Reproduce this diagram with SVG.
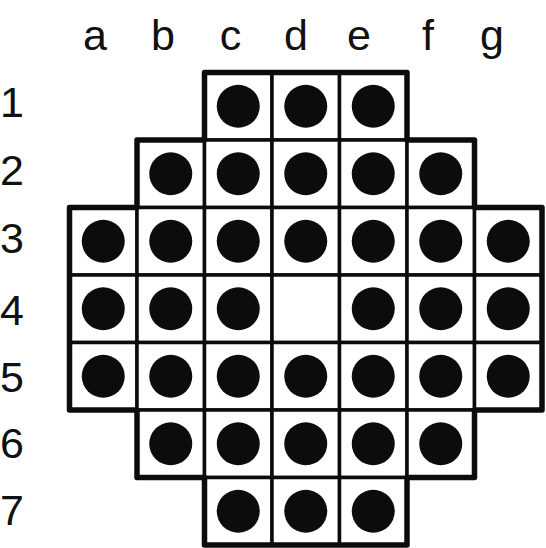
<svg xmlns="http://www.w3.org/2000/svg" width="546" height="548" viewBox="0 0 546 548">
<style>
.cell{fill:#fff;stroke:#0c0c0a;stroke-width:3.5}
.peg{fill:#0c0c0a}
.lbl{font-family:"Liberation Sans",Arial,sans-serif;font-size:43px;fill:#111}
.outline{fill:none;stroke:#0c0c0a;stroke-width:5.5;stroke-linejoin:round}
</style>
<rect width="546" height="548" fill="#fff"/>
<g id="col-labels" class="lbl" text-anchor="middle">
<text x="95" y="50">a</text>
<text x="163" y="50">b</text>
<text x="230.5" y="50">c</text>
<text x="296" y="50">d</text>
<text x="359" y="50">e</text>
<text x="428" y="50">f</text>
<text x="492" y="50">g</text>
</g>
<g id="row-labels" class="lbl">
<text x="0" y="117">1</text>
<text x="0" y="185">2</text>
<text x="0" y="253">3</text>
<text x="0" y="325">4</text>
<text x="0" y="392">5</text>
<text x="0" y="458">6</text>
<text x="0" y="525">7</text>
</g>
<g id="board">
<g id="c1"><rect class="cell" x="204.5" y="72.5" width="67.5" height="67.5"/><circle class="peg" cx="238.25" cy="106.25" r="21.5"/></g>
<g id="d1"><rect class="cell" x="272" y="72.5" width="67.5" height="67.5"/><circle class="peg" cx="305.75" cy="106.25" r="21.5"/></g>
<g id="e1"><rect class="cell" x="339.5" y="72.5" width="67.5" height="67.5"/><circle class="peg" cx="373.25" cy="106.25" r="21.5"/></g>

<g id="b2"><rect class="cell" x="137" y="140" width="67.5" height="67.5"/><circle class="peg" cx="170.75" cy="173.75" r="21.5"/></g>
<g id="c2"><rect class="cell" x="204.5" y="140" width="67.5" height="67.5"/><circle class="peg" cx="238.25" cy="173.75" r="21.5"/></g>
<g id="d2"><rect class="cell" x="272" y="140" width="67.5" height="67.5"/><circle class="peg" cx="305.75" cy="173.75" r="21.5"/></g>
<g id="e2"><rect class="cell" x="339.5" y="140" width="67.5" height="67.5"/><circle class="peg" cx="373.25" cy="173.75" r="21.5"/></g>
<g id="f2"><rect class="cell" x="407" y="140" width="67.5" height="67.5"/><circle class="peg" cx="440.75" cy="173.75" r="21.5"/></g>

<g id="a3"><rect class="cell" x="69.5" y="207.5" width="67.5" height="67.5"/><circle class="peg" cx="103.25" cy="241.25" r="21.5"/></g>
<g id="b3"><rect class="cell" x="137" y="207.5" width="67.5" height="67.5"/><circle class="peg" cx="170.75" cy="241.25" r="21.5"/></g>
<g id="c3"><rect class="cell" x="204.5" y="207.5" width="67.5" height="67.5"/><circle class="peg" cx="238.25" cy="241.25" r="21.5"/></g>
<g id="d3"><rect class="cell" x="272" y="207.5" width="67.5" height="67.5"/><circle class="peg" cx="305.75" cy="241.25" r="21.5"/></g>
<g id="e3"><rect class="cell" x="339.5" y="207.5" width="67.5" height="67.5"/><circle class="peg" cx="373.25" cy="241.25" r="21.5"/></g>
<g id="f3"><rect class="cell" x="407" y="207.5" width="67.5" height="67.5"/><circle class="peg" cx="440.75" cy="241.25" r="21.5"/></g>
<g id="g3"><rect class="cell" x="474.5" y="207.5" width="67.5" height="67.5"/><circle class="peg" cx="508.25" cy="241.25" r="21.5"/></g>

<g id="a4"><rect class="cell" x="69.5" y="275" width="67.5" height="67.5"/><circle class="peg" cx="103.25" cy="308.75" r="21.5"/></g>
<g id="b4"><rect class="cell" x="137" y="275" width="67.5" height="67.5"/><circle class="peg" cx="170.75" cy="308.75" r="21.5"/></g>
<g id="c4"><rect class="cell" x="204.5" y="275" width="67.5" height="67.5"/><circle class="peg" cx="238.25" cy="308.75" r="21.5"/></g>
<g id="d4"><rect class="cell" x="272" y="275" width="67.5" height="67.5"/></g>
<g id="e4"><rect class="cell" x="339.5" y="275" width="67.5" height="67.5"/><circle class="peg" cx="373.25" cy="308.75" r="21.5"/></g>
<g id="f4"><rect class="cell" x="407" y="275" width="67.5" height="67.5"/><circle class="peg" cx="440.75" cy="308.75" r="21.5"/></g>
<g id="g4"><rect class="cell" x="474.5" y="275" width="67.5" height="67.5"/><circle class="peg" cx="508.25" cy="308.75" r="21.5"/></g>

<g id="a5"><rect class="cell" x="69.5" y="342.5" width="67.5" height="67.5"/><circle class="peg" cx="103.25" cy="376.25" r="21.5"/></g>
<g id="b5"><rect class="cell" x="137" y="342.5" width="67.5" height="67.5"/><circle class="peg" cx="170.75" cy="376.25" r="21.5"/></g>
<g id="c5"><rect class="cell" x="204.5" y="342.5" width="67.5" height="67.5"/><circle class="peg" cx="238.25" cy="376.25" r="21.5"/></g>
<g id="d5"><rect class="cell" x="272" y="342.5" width="67.5" height="67.5"/><circle class="peg" cx="305.75" cy="376.25" r="21.5"/></g>
<g id="e5"><rect class="cell" x="339.5" y="342.5" width="67.5" height="67.5"/><circle class="peg" cx="373.25" cy="376.25" r="21.5"/></g>
<g id="f5"><rect class="cell" x="407" y="342.5" width="67.5" height="67.5"/><circle class="peg" cx="440.75" cy="376.25" r="21.5"/></g>
<g id="g5"><rect class="cell" x="474.5" y="342.5" width="67.5" height="67.5"/><circle class="peg" cx="508.25" cy="376.25" r="21.5"/></g>

<g id="b6"><rect class="cell" x="137" y="410" width="67.5" height="67.5"/><circle class="peg" cx="170.75" cy="443.75" r="21.5"/></g>
<g id="c6"><rect class="cell" x="204.5" y="410" width="67.5" height="67.5"/><circle class="peg" cx="238.25" cy="443.75" r="21.5"/></g>
<g id="d6"><rect class="cell" x="272" y="410" width="67.5" height="67.5"/><circle class="peg" cx="305.75" cy="443.75" r="21.5"/></g>
<g id="e6"><rect class="cell" x="339.5" y="410" width="67.5" height="67.5"/><circle class="peg" cx="373.25" cy="443.75" r="21.5"/></g>
<g id="f6"><rect class="cell" x="407" y="410" width="67.5" height="67.5"/><circle class="peg" cx="440.75" cy="443.75" r="21.5"/></g>

<g id="c7"><rect class="cell" x="204.5" y="477.5" width="67.5" height="67.5"/><circle class="peg" cx="238.25" cy="511.25" r="21.5"/></g>
<g id="d7"><rect class="cell" x="272" y="477.5" width="67.5" height="67.5"/><circle class="peg" cx="305.75" cy="511.25" r="21.5"/></g>
<g id="e7"><rect class="cell" x="339.5" y="477.5" width="67.5" height="67.5"/><circle class="peg" cx="373.25" cy="511.25" r="21.5"/></g>
</g>
<path id="outline" class="outline" d="M204.5,72.5 H407 V140 H474.5 V207.5 H542 V410 H474.5 V477.5 H407 V545 H204.5 V477.5 H137 V410 H69.5 V207.5 H137 V140 H204.5 Z"/>
</svg>
